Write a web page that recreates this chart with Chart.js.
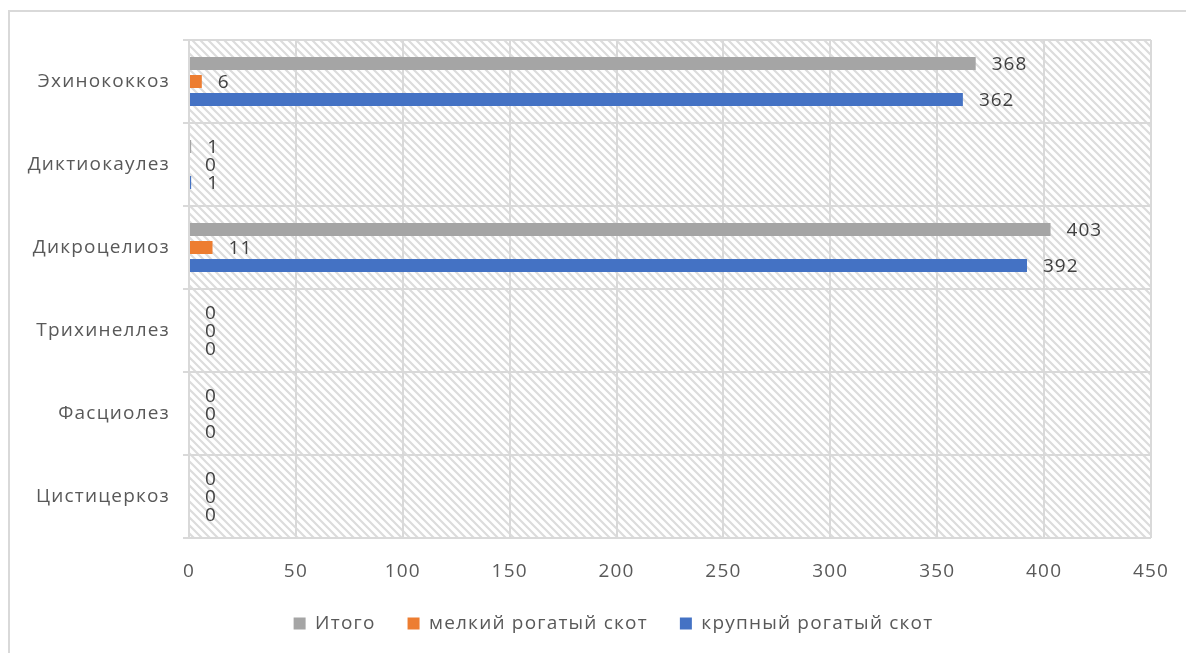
<!DOCTYPE html>
<html lang="ru">
<head>
<meta charset="utf-8">
<script src="https://cdn.jsdelivr.net/npm/chart.js@4/dist/chart.umd.min.js"></script>
<style>
  html, body { margin: 0; padding: 0; background: #ffffff; overflow: hidden; }
  #frame {
    position: absolute; left: 8px; top: 10px; width: 1300px; height: 800px;
    border: 2px solid #d9d9d9; box-sizing: border-box;
  }
  #wrap { position: absolute; left: 0; top: 0; width: 1186px; height: 653px; }
</style>
</head>
<body>
<div id="frame"></div>
<div id="wrap"><canvas id="chart" width="1186" height="653"></canvas></div>
<script>
// Выявленные паразитозы по видам животных
const categories = ['Эхинококкоз', 'Диктиокаулез', 'Дикроцелиоз', 'Трихинеллез', 'Фасциолез', 'Цистицеркоз'];
const total      = [368, 1, 403, 0, 0, 0];
const smallStock = [6, 0, 11, 0, 0, 0];
const cattle     = [362, 1, 392, 0, 0, 0];
const seriesNames = ['Итого', 'мелкий рогатый скот', 'крупный рогатый скот'];
const xTicks = [0, 50, 100, 150, 200, 250, 300, 350, 400, 450];

const FONT = "'Open Sans', 'DejaVu Sans', sans-serif";
const SPACING = '1.2px';
const LEGEND_SHIFT = 38;

// diagonal hatch used as the plot background
function makeHatch() {
  const s = 8;
  const c = document.createElement('canvas');
  c.width = s; c.height = s;
  const g = c.getContext('2d');
  g.fillStyle = '#ffffff';
  g.fillRect(0, 0, s, s);
  g.strokeStyle = '#dcdcdc';
  g.lineWidth = 2.2;
  g.beginPath();
  g.moveTo(-2, -2); g.lineTo(s + 2, s + 2);
  g.moveTo(-2, s - 2); g.lineTo(2, s + 2);
  g.moveTo(s - 2, -2); g.lineTo(s + 2, 2);
  g.stroke();
  return c;
}

// wide letter spacing for all chart text
const textSpacing = {
  id: 'textSpacing',
  beforeLayout(chart) { chart.ctx.letterSpacing = SPACING; },
  beforeDraw(chart) { chart.ctx.letterSpacing = SPACING; }
};

// legend sits a little right of the canvas centre
const legendOffset = {
  id: 'legendOffset',
  afterLayout(chart) {
    if (chart.legend) {
      chart.legend.left += LEGEND_SHIFT;
      chart.legend.right += LEGEND_SHIFT;
    }
  }
};

const hatchBackground = {
  id: 'hatchBackground',
  beforeDraw(chart) {
    const { ctx, chartArea: a } = chart;
    ctx.save();
    ctx.fillStyle = ctx.createPattern(makeHatch(), 'repeat');
    ctx.fillRect(a.left, a.top, a.right - a.left, a.bottom - a.top);
    ctx.restore();
  }
};

// value labels to the right of each bar end
const valueLabels = {
  id: 'valueLabels',
  afterDatasetsDraw(chart) {
    const { ctx } = chart;
    ctx.save();
    ctx.font = '19px ' + FONT;
    ctx.letterSpacing = '1px';
    ctx.fillStyle = '#404040';
    ctx.textAlign = 'left';
    ctx.textBaseline = 'middle';
    chart.data.datasets.forEach((ds, di) => {
      const meta = chart.getDatasetMeta(di);
      meta.data.forEach((bar, i) => {
        ctx.fillText(String(ds.data[i]), bar.x + 16, bar.y + 1);
      });
    });
    ctx.restore();
  }
};

new Chart(document.getElementById('chart'), {
  type: 'bar',
  data: {
    labels: categories,
    datasets: [
      { label: seriesNames[0], data: total,      backgroundColor: '#a5a5a5' },
      { label: seriesNames[1], data: smallStock, backgroundColor: '#ed7d31' },
      { label: seriesNames[2], data: cattle,     backgroundColor: '#4472c4' }
    ]
  },
  options: {
    indexAxis: 'y',
    responsive: false,
    animation: false,
    events: [],
    categoryPercentage: 0.65,
    barPercentage: 0.72,
    borderWidth: 0,
    layout: { padding: { top: 40, right: 35, bottom: 10, left: 0 } },
    scales: {
      x: {
        min: 0, max: 450,
        afterBuildTicks(scale) { scale.ticks = xTicks.map(v => ({ value: v })); },
        afterFit(scale) {
          scale.height = 44;
          scale.paddingLeft = 0;
          scale.paddingRight = 0;
        },
        grid: { color: '#d9d9d9', lineWidth: 2, drawTicks: false },
        border: { display: false },
        ticks: { color: '#595959', font: { family: FONT, size: 19 }, padding: 22 }
      },
      y: {
        offset: true,
        afterFit(scale) { scale.width = 189; },
        grid: { offset: true, color: '#d9d9d9', lineWidth: 2, tickLength: 6 },
        border: { display: false },
        ticks: { color: '#595959', font: { family: FONT, size: 19 }, padding: 13 }
      }
    },
    plugins: {
      legend: {
        position: 'bottom',
        labels: {
          boxWidth: 12, boxHeight: 12, padding: 32,
          color: '#595959', font: { family: FONT, size: 19 }
        }
      },
      tooltip: { enabled: false }
    }
  },
  plugins: [textSpacing, legendOffset, hatchBackground, valueLabels]
});
</script>
</body>
</html>
